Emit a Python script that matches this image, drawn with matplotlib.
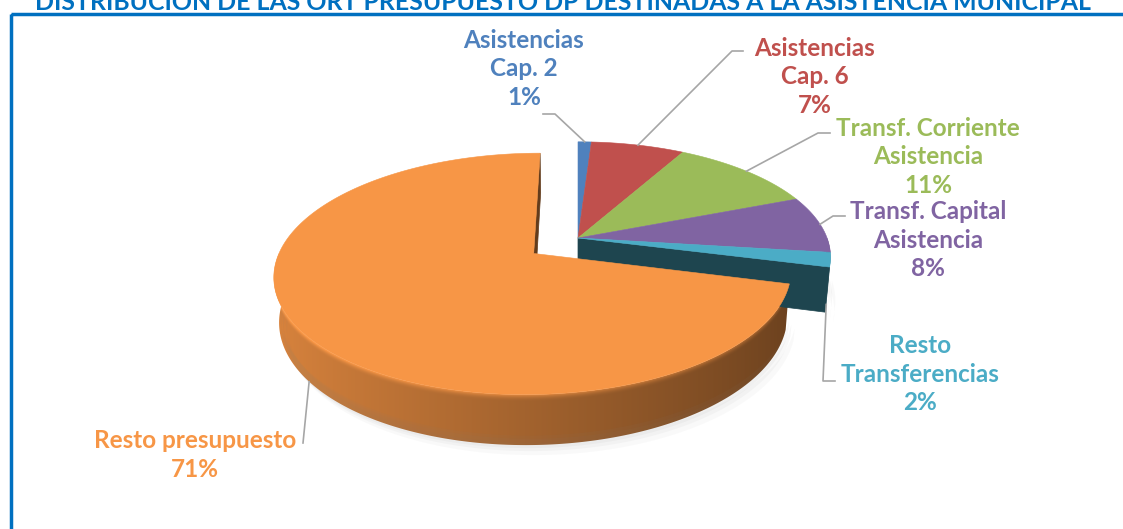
import numpy as np
import matplotlib.pyplot as plt
from matplotlib.patches import Polygon, Rectangle
from matplotlib.colors import to_rgb

title = "DISTRIBUCIÓN DE LAS ORT PRESUPUESTO DP DESTINADAS A LA ASISTENCIA MUNICIPAL"
labels = ["Asistencias\nCap. 2", "Asistencias\nCap. 6", "Transf. Corriente\nAsistencia",
          "Transf. Capital\nAsistencia", "Resto\nTransferencias", "Resto presupuesto"]
values = [1, 7, 11, 8, 2, 71]
colors = ["#4F81BD", "#C0504D", "#9BBB59", "#8064A2", "#4BACC6", "#F79646"]
explode = [0, 0, 0, 0, 0, 0.22]

# label placement (pixels) and leader elbows
label_xy = [(524, 69), (815, 77), (928, 157), (928, 240), (920, 374), (195, 455)]
leader_start = [(543, 114), (743, 51), (830, 133), (845, 216), (835, 381), (303, 443)]
leader_elbow = [(555, 114), (732, 51), (818, 133), (833, 216), (823, 381), (303, 443)]
anchor_h = [0, 0, 0, 0, -1, -1]

# simple perspective camera
cx, cy = 578, 238
f, D = 1345, 5.4
s_el = 0.45
c_el = np.sqrt(1 - s_el ** 2)
H = 0.2


def proj(u, v, h):
    d = D - v * c_el - h * s_el
    yup = -v * s_el + h * c_el
    return cx + f * u / d, cy - f * yup / d


def shade(col, k):
    return tuple(np.clip(np.array(to_rgb(col)) * k, 0, 1))


fig = plt.figure(figsize=(11.23, 5.29), dpi=100)
ax = fig.add_axes([0, 0, 1, 1])

total = sum(values)
bounds = np.concatenate([[0], np.cumsum(values)]) / total * 360
n = len(values)
cam = np.array([0, D * c_el, D * s_el])

slices = []
for i in range(n):
    t0, t1 = bounds[i], bounds[i + 1]
    tm = np.radians((t0 + t1) / 2)
    ou, ov = explode[i] * np.sin(tm), -explode[i] * np.cos(tm)
    slices.append((t0, t1, ou, ov))


def rim(t, ou, ov, h):
    r = np.radians(t)
    return proj(ou + np.sin(r), ov - np.cos(r), h)


def wall(i, a, b, ou, ov):
    ts = np.linspace(a, b, 300)
    top = np.array([rim(t, ou, ov, 0) for t in ts])
    bot = np.array([rim(t, ou, ov, -H) for t in ts])
    poly = Polygon(np.vstack([top, bot[::-1]]), closed=True, fc="none", ec="none")
    ax.add_patch(poly)
    x0, x1 = np.floor(min(top[:, 0].min(), bot[:, 0].min())) - 1, np.ceil(max(top[:, 0].max(), bot[:, 0].max())) + 1
    y0, y1 = np.floor(min(top[:, 1].min(), bot[:, 1].min())) - 1, np.ceil(max(top[:, 1].max(), bot[:, 1].max())) + 1
    xs = np.arange(x0, x1) + 0.5
    ys = np.arange(y0, y1) + 0.5
    order = np.argsort(top[:, 0])
    tx = np.interp(xs, top[order, 0], ts[order])
    k = 0.66 - 0.23 * np.sin(np.radians(tx))
    ytop = np.interp(xs, top[order, 0], top[order, 1])
    depth = np.clip((ys[:, None] - ytop[None, :]) / 7.0, 0, 1)
    kk = k[None, :] + 0.25 * (1 - depth) ** 2
    img = np.clip(np.array(to_rgb(colors[i]))[None, None, :] * kk[:, :, None], 0, 1)
    im = ax.imshow(img, extent=(x0, x1, y1, y0), origin="upper", interpolation="bilinear", aspect="auto")
    im.set_clip_path(poly)


def draw_group(idx):
    # cut faces
    for i in idx:
        t0, t1, ou, ov = slices[i]
        for t, sgn, nb in [(t0, -1, (i - 1) % n), (t1, 1, (i + 1) % n)]:
            if not (explode[i] or explode[nb]):
                continue
            r = np.radians(t)
            normal = sgn * np.array([np.cos(r), np.sin(r)])
            mid = np.array([ou + 0.5 * np.sin(r), ov - 0.5 * np.cos(r)])
            if np.dot(normal, cam[:2] - mid) <= 0:
                continue
            pts = [proj(ou, ov, 0), rim(t, ou, ov, 0), rim(t, ou, ov, -H), proj(ou, ov, -H)]
            c = shade(colors[i], 0.4)
            ax.add_patch(Polygon(pts, closed=True, fc=c, ec=c, lw=0.5))
    # outer walls
    for i in idx:
        t0, t1, ou, ov = slices[i]
        a, b = max(t0, 90), min(t1, 270)
        if a < b:
            wall(i, a, b, ou, ov)
    # top faces
    for i in idx:
        t0, t1, ou, ov = slices[i]
        ts = np.linspace(t0, t1, int((t1 - t0) * 2) + 2)
        pts = [proj(ou, ov, 0)] + [rim(t, ou, ov, 0) for t in ts]
        ax.add_patch(Polygon(pts, closed=True, fc=colors[i], ec=colors[i], lw=0.4))


# soft shadow under the pie
for grow, al in [(10, 0.04), (6, 0.05), (3, 0.06)]:
    for i in range(n):
        t0, t1, ou, ov = slices[i]
        a, b = max(t0, 90), min(t1, 270)
        if a >= b:
            continue
        ts = np.linspace(a, b, 120)
        bot = np.array([rim(t, ou, ov, -H) for t in ts])
        top = np.array([rim(t, ou, ov, -H + 0.05) for t in ts[::-1]])
        pts = np.vstack([bot, top]) + np.array([grow * 0.8, grow])
        ax.add_patch(Polygon(pts, closed=True, fc="#7f7f7f", ec="none", alpha=al))

draw_group([i for i in range(n) if not explode[i]])
draw_group([i for i in range(n) if explode[i]])

# labels and leader lines
for i in range(n):
    t0, t1, ou, ov = slices[i]
    tm = (t0 + t1) / 2
    ax_, ay_ = rim(tm, ou, ov, anchor_h[i] * H)
    xs = [leader_start[i][0], leader_elbow[i][0], ax_]
    ys = [leader_start[i][1], leader_elbow[i][1], ay_]
    ax.plot(xs, ys, color="#a6a6a6", lw=1.2)
    pct = f"{round(values[i] / total * 100)}%"
    ax.text(label_xy[i][0], label_xy[i][1], f"{labels[i]}\n{pct}", ha="center", va="center",
            color=colors[i], fontsize=17.5, fontweight="bold", family="Lato", linespacing=1.3)

# frame and (cropped) title
ax.add_patch(Rectangle((11, 14), 1300, 700, fill=False, ec="#0070C0", lw=2.5))
ax.text(563, 10.5, title, ha="center", va="baseline", color="#0070C0", fontsize=17.9,
        fontweight="bold", family="Lato")

ax.set_xlim(0, 1123)
ax.set_ylim(529, 0)
ax.axis("off")
fig.savefig("out.png", dpi=100)
